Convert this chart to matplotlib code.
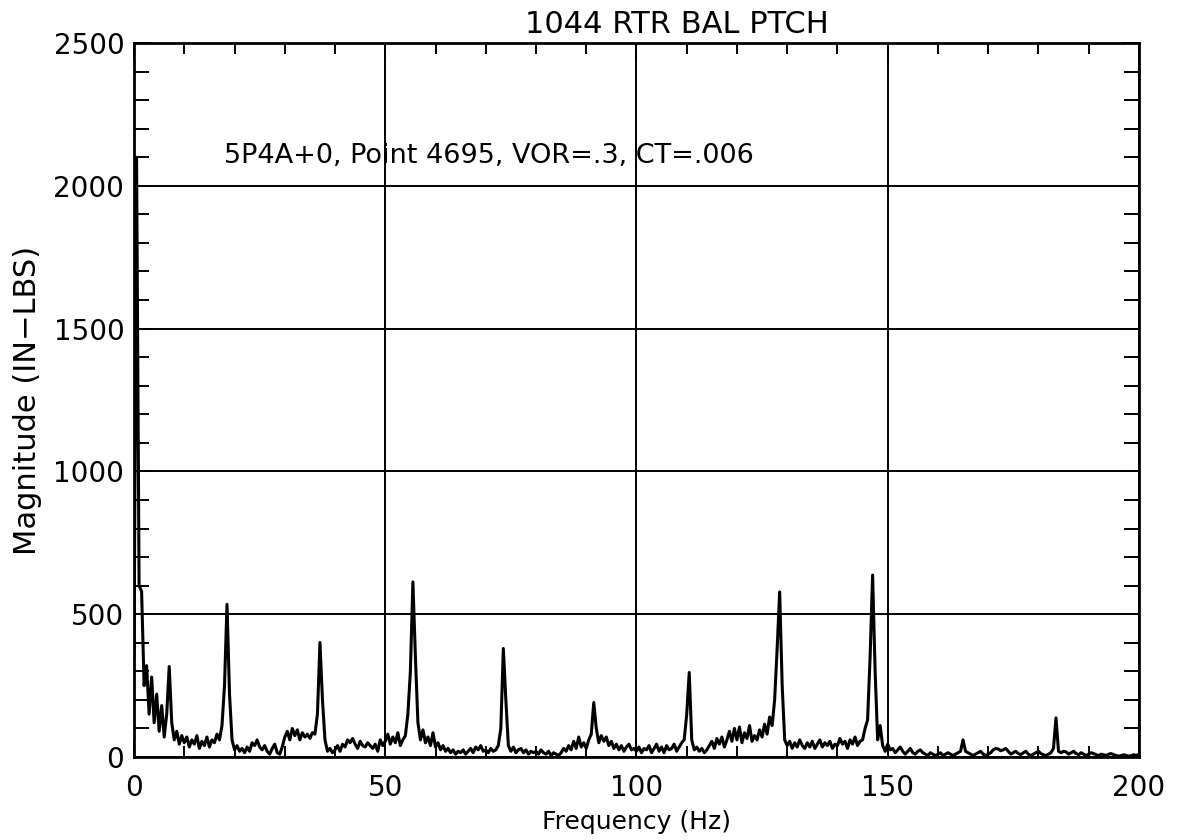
import numpy as np
import matplotlib
matplotlib.use("Agg")
import matplotlib.pyplot as plt
from matplotlib.ticker import MultipleLocator

# magnitude spectrum, one value every 0.5 Hz (0 .. 200 Hz)
freq_step = 0.5
magnitude = [
    # 0 - 9.5 Hz
    350, 2100, 600, 580, 250, 320, 150, 280, 120, 220, 90, 180, 70, 150, 317, 120, 60, 90, 45, 75,
    # 10 - 19.5
    50, 70, 35, 60, 45, 75, 30, 55, 40, 70, 35, 60, 50, 80, 60, 110, 250, 535, 220, 60,
    # 20 - 29.5
    25, 40, 20, 30, 15, 35, 20, 50, 40, 60, 35, 25, 40, 20, 10, 30, 45, 15, 10, 35,
    # 30 - 39.5
    70, 90, 60, 100, 75, 95, 60, 85, 70, 80, 65, 85, 80, 150, 401, 200, 60, 20, 30, 15,
    # 40 - 49.5
    25, 40, 20, 45, 35, 60, 50, 65, 45, 30, 55, 40, 35, 50, 40, 30, 45, 20, 60, 40,
    # 50 - 59.5
    55, 80, 45, 70, 50, 85, 40, 60, 75, 150, 300, 613, 350, 120, 60, 95, 50, 70, 40, 85,
    # 60 - 69.5
    35, 50, 25, 40, 20, 30, 15, 25, 10, 20, 15, 25, 10, 20, 30, 15, 35, 25, 40, 20,
    # 70 - 79.5
    25, 15, 30, 20, 25, 40, 100, 380, 200, 40, 20, 35, 15, 25, 30, 15, 25, 10, 20, 15,
    # 80 - 89.5
    20, 10, 25, 15, 10, 20, 5, 15, 10, 5, 15, 30, 20, 40, 25, 55, 30, 70, 35, 50,
    # 90 - 99.5
    30, 60, 80, 191, 100, 50, 75, 55, 70, 40, 55, 30, 45, 25, 40, 20, 35, 45, 25, 30,
    # 100 - 109.5
    20, 35, 15, 30, 25, 40, 15, 30, 45, 20, 35, 15, 40, 25, 30, 45, 20, 35, 50, 60,
    # 110 - 119.5
    150, 296, 60, 25, 35, 20, 30, 15, 25, 40, 55, 30, 65, 45, 70, 35, 60, 90, 55, 100,
    # 120 - 129.5
    60, 105, 50, 85, 65, 110, 55, 75, 60, 95, 70, 115, 80, 140, 110, 200, 380, 578, 250, 60,
    # 130 - 139.5
    40, 55, 30, 50, 35, 60, 40, 30, 50, 35, 55, 30, 45, 60, 35, 50, 40, 55, 30, 45,
    # 140 - 149.5
    40, 65, 45, 55, 30, 60, 45, 70, 40, 55, 60, 100, 130, 350, 637, 300, 60, 110, 40, 20,
    # 150 - 159.5
    45, 25, 30, 15, 25, 35, 20, 10, 20, 30, 15, 10, 20, 25, 15, 10, 5, 15, 10, 5,
    # 160 - 169.5
    10, 15, 5, 10, 15, 10, 5, 10, 15, 20, 60, 20, 15, 10, 5, 10, 15, 20, 10, 5,
    # 170 - 179.5
    10, 15, 25, 30, 28, 22, 25, 30, 20, 10, 15, 20, 12, 8, 15, 20, 10, 5, 10, 15,
    # 180 - 189.5
    20, 12, 8, 5, 10, 15, 30, 137, 20, 15, 20, 18, 10, 15, 20, 12, 8, 15, 10, 5,
    # 190 - 200
    10, 15, 12, 8, 5, 10, 8, 5, 10, 12, 8, 5, 3, 5, 8, 5, 3, 5, 8, 5, 10,
]
freq = np.arange(len(magnitude)) * freq_step

title = "1044 RTR BAL PTCH"
note = "5P4A+0, Point 4695, VOR=.3, CT=.006"

fig = plt.figure(figsize=(11.78, 8.4), dpi=100)
ax = fig.add_axes([0.1138, 0.0988, 0.853, 0.850])

ax.plot(freq, magnitude, color="black", lw=2.2)

ax.set_xlim(0, 200)
ax.set_ylim(0, 2500)
ax.xaxis.set_major_locator(MultipleLocator(50))
ax.xaxis.set_minor_locator(MultipleLocator(10))
ax.yaxis.set_major_locator(MultipleLocator(500))
ax.yaxis.set_minor_locator(MultipleLocator(100))

ax.grid(True, which="major", color="black", lw=1.4)
for s in ax.spines.values():
    s.set_linewidth(2)

ax.tick_params(which="both", direction="in", top=True, right=True, colors="black")
ax.tick_params(which="major", length=12, width=1.4, labelsize=20)
ax.tick_params(which="minor", length=11, width=1.4)
ax.tick_params(axis="x", which="minor", length=8)
ax.tick_params(axis="x", which="major", pad=12)
ax.tick_params(axis="y", which="major", pad=7)

# title sits a bit right of centre in the original
ax.text(0.54, 1.006, title, transform=ax.transAxes, fontsize=22,
        ha="center", va="bottom")
ax.set_xlabel("Frequency (Hz)", fontsize=18, labelpad=6)
ax.set_ylabel("Magnitude (IN\u2212LBS)", fontsize=22, labelpad=8)
ax.text(17.9, 2105, note, fontsize=19.5, va="center", ha="left")

fig.savefig("out.png", dpi=100)
